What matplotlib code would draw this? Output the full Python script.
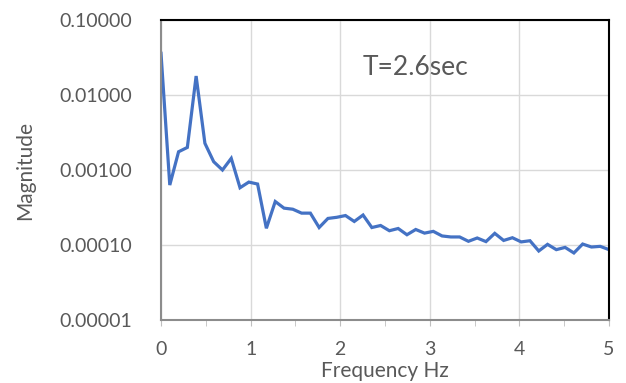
import matplotlib
matplotlib.use("Agg")
import matplotlib.pyplot as plt
from matplotlib.ticker import FixedLocator, FormatStrFormatter, NullLocator
from matplotlib.patches import Rectangle

freq = [0.000, 0.098, 0.196, 0.294, 0.392, 0.490, 0.588, 0.686, 0.784, 0.882,
        0.980, 1.078, 1.176, 1.275, 1.373, 1.471, 1.569, 1.667, 1.765, 1.863,
        1.961, 2.059, 2.157, 2.255, 2.353, 2.451, 2.549, 2.647, 2.745, 2.843,
        2.941, 3.039, 3.137, 3.235, 3.333, 3.431, 3.529, 3.627, 3.725, 3.824,
        3.922, 4.020, 4.118, 4.216, 4.314, 4.412, 4.510, 4.608, 4.706, 4.804,
        4.902, 5.000]
magnitude = [0.036, 0.00063, 0.00175, 0.0020, 0.0179, 0.00227, 0.00129, 0.0010,
             0.00143, 0.00058, 0.00069, 0.00065, 0.000167, 0.00038, 0.00031,
             0.00030, 0.000266, 0.000266, 0.000171, 0.000226, 0.000234,
             0.000247, 0.000206, 0.000251, 0.000171, 0.000182, 0.000155,
             0.000166, 0.000137, 0.000161, 0.000144, 0.000152, 0.000132,
             0.000128, 0.000128, 0.000112, 0.000124, 0.000111, 0.000143,
             0.000115, 0.000125, 0.000110, 0.000114, 0.0000832, 0.000102,
             0.0000867, 0.0000929, 0.0000783, 0.000103, 0.0000940, 0.0000959,
             0.0000867]
x_ticks = [0, 1, 2, 3, 4, 5]
y_ticks = [0.00001, 0.0001, 0.001, 0.01, 0.1]

plt.rcParams['font.family'] = ['Lato', 'DejaVu Sans']
grey = '#595959'

fig = plt.figure(figsize=(6.26, 3.83), dpi=100)
ax = fig.add_axes([161/626, 1-320/383, 448/626, 300/383])

ax.plot(freq, magnitude, color='#4472C4', lw=2.3, solid_joinstyle='miter')
ax.set_yscale('log')
ax.set_xlim(0, 5)
ax.set_ylim(0.00001, 0.1)

ax.yaxis.set_major_locator(FixedLocator(y_ticks))
ax.yaxis.set_minor_locator(NullLocator())
ax.yaxis.set_major_formatter(FormatStrFormatter('%.5f'))
ax.xaxis.set_major_locator(FixedLocator(x_ticks))
ax.xaxis.set_minor_locator(FixedLocator([0.5, 1.5, 2.5, 3.5, 4.5]))

ax.grid(True, which='major', color='#D9D9D9', lw=1)
ax.set_axisbelow(True)
ax.tick_params(axis='y', length=0, pad=21, labelsize=14, labelcolor=grey)
ax.tick_params(axis='x', which='both', length=4, color='#BFBFBF', direction='out',
               pad=11, labelsize=14, labelcolor=grey)

for s in ['top', 'right']:
    ax.spines[s].set_color('black')
    ax.spines[s].set_linewidth(1.5)
for s in ['left', 'bottom']:
    ax.spines[s].set_color('#8C8C8C')
    ax.spines[s].set_linewidth(1.5)
ax.add_patch(Rectangle((0, 0), 1, 1, transform=ax.transAxes, fill=False,
                       edgecolor='black', lw=1.2, zorder=1, clip_on=False))

ax.set_xlabel('Frequency Hz', fontsize=15, color=grey, labelpad=2)
ax.set_ylabel('Magnitude', fontsize=15, color=grey, labelpad=17)
ax.text(0.567, 0.843, 'T=2.6sec', transform=ax.transAxes, fontsize=19,
        color=grey, ha='center', va='center')

fig.savefig('out.png', dpi=100)
